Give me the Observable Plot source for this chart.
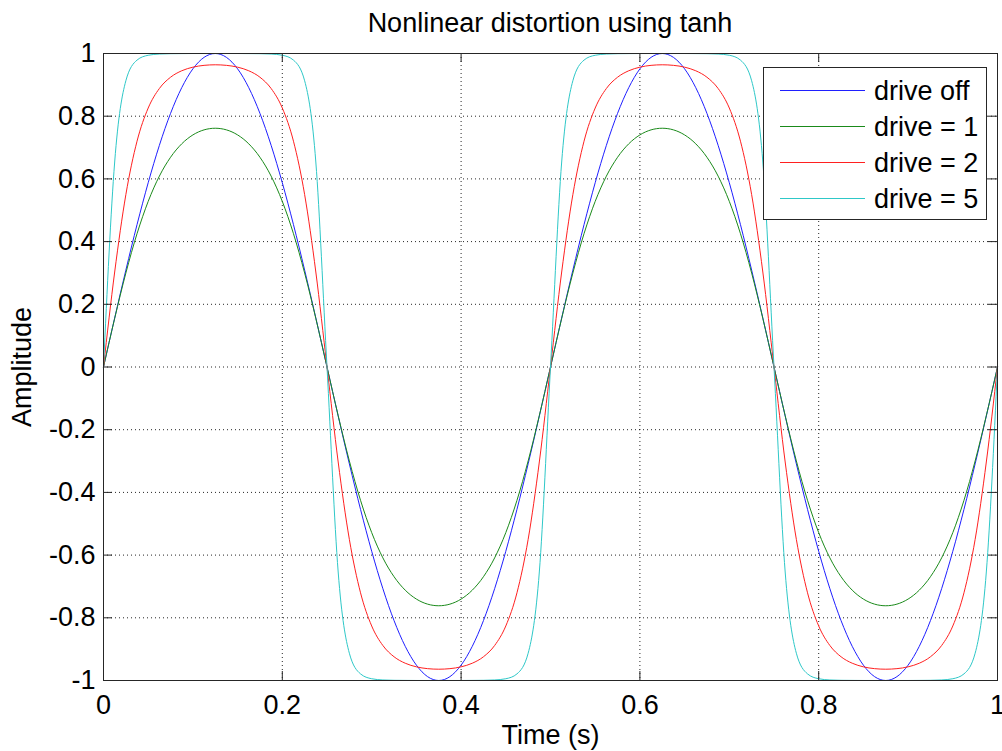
<!DOCTYPE html>
<html>
<head>
<meta charset="utf-8">
<script src="https://cdn.jsdelivr.net/npm/d3@7"></script>
<script src="https://cdn.jsdelivr.net/npm/@observablehq/plot@0.6"></script>
<style>
  html, body { margin: 0; padding: 0; background: #fff; }
  #wrap { position: relative; width: 1002px; height: 751px; font-family: "Liberation Sans", Arial, sans-serif; }
  #title { position: absolute; left: 103px; top: 10px; width: 894px; text-align: center; font-size: 27px; line-height: 27px; color: #000; }
  #legend { position: absolute; left: 763px; top: 67px; width: 224px; height: 153px; box-sizing: border-box; border: 1px solid #262626; background: #fff; }
  .lrow-line { position: absolute; left: 16px; width: 85px; height: 0; border-top: 1px solid; }
  .lrow-text { position: absolute; left: 110px; font-size: 27px; line-height: 27px; color: #000; white-space: nowrap; }
</style>
</head>
<body>
<div id="wrap">
  <div id="chart"></div>
  <div id="title">Nonlinear distortion using tanh</div>
  <div id="legend"></div>
</div>
<script>
const titleText = "Nonlinear distortion using tanh";
const xLabel = "Time (s)";
const yLabel = "Amplitude";

const seriesNames = ["drive off", "drive = 1", "drive = 2", "drive = 5"];
const seriesColors = ["#1f1fff", "#1a8a1a", "#ff2020", "#2ec8c8"];

const xTicks = [0, 0.2, 0.4, 0.6, 0.8, 1];
const xTickLabels = ["0", "0.2", "0.4", "0.6", "0.8", "1"];
const yTicks = [-1, -0.8, -0.6, -0.4, -0.2, 0, 0.2, 0.4, 0.6, 0.8, 1];
const yTickLabels = ["-1", "-0.8", "-0.6", "-0.4", "-0.2", "0", "0.2", "0.4", "0.6", "0.8", "1"];

const time = [0,0.0125,0.025,0.0375,0.05,0.0625,0.075,0.0875,0.1,0.1125,0.125,0.1375,0.15,0.1625,0.175,0.1875,0.2,0.2125,0.225,0.2375,0.25,0.2625,0.275,0.2875,0.3,0.3125,0.325,0.3375,0.35,0.3625,0.375,0.3875,0.4,0.4125,0.425,0.4375,0.45,0.4625,0.475,0.4875,0.5,
0.5125,0.525,0.5375,0.55,0.5625,0.575,0.5875,0.6,0.6125,0.625,0.6375,0.65,0.6625,0.675,0.6875,0.7,0.7125,0.725,0.7375,0.75,0.7625,0.775,0.7875,0.8,0.8125,0.825,0.8375,0.85,0.8625,0.875,0.8875,0.9,0.9125,0.925,0.9375,0.95,0.9625,0.975,0.9875,1];

const driveOff = [0,.1564,.309,.454,.5878,.7071,.809,.891,.9511,.9877,1,.9877,.9511,.891,.809,.7071,.5878,.454,.309,.1564,0,-.1564,-.309,-.454,-.5878,-.7071,-.809,-.891,-.9511,-.9877,-1,-.9877,-.9511,-.891,-.809,-.7071,-.5878,-.454,-.309,-.1564,0,
.1564,.309,.454,.5878,.7071,.809,.891,.9511,.9877,1,.9877,.9511,.891,.809,.7071,.5878,.454,.309,.1564,0,-.1564,-.309,-.454,-.5878,-.7071,-.809,-.891,-.9511,-.9877,-1,-.9877,-.9511,-.891,-.809,-.7071,-.5878,-.454,-.309,-.1564,0];

const drive1 = [0,.1551,.2996,.4252,.5283,.6089,.669,.7119,.7403,.7564,.7616,.7564,.7403,.7119,.669,.6089,.5283,.4252,.2996,.1551,0,-.1551,-.2996,-.4252,-.5283,-.6089,-.669,-.7119,-.7403,-.7564,-.7616,-.7564,-.7403,-.7119,-.669,-.6089,-.5283,-.4252,-.2996,-.1551,0,
.1551,.2996,.4252,.5283,.6089,.669,.7119,.7403,.7564,.7616,.7564,.7403,.7119,.669,.6089,.5283,.4252,.2996,.1551,0,-.1551,-.2996,-.4252,-.5283,-.6089,-.669,-.7119,-.7403,-.7564,-.7616,-.7564,-.7403,-.7119,-.669,-.6089,-.5283,-.4252,-.2996,-.1551,0];

const drive2 = [0,.303,.5497,.7202,.8261,.8884,.9243,.9449,.9564,.9622,.964,.9622,.9564,.9449,.9243,.8884,.8261,.7202,.5497,.303,0,-.303,-.5497,-.7202,-.8261,-.8884,-.9243,-.9449,-.9564,-.9622,-.964,-.9622,-.9564,-.9449,-.9243,-.8884,-.8261,-.7202,-.5497,-.303,0,
.303,.5497,.7202,.8261,.8884,.9243,.9449,.9564,.9622,.964,.9622,.9564,.9449,.9243,.8884,.8261,.7202,.5497,.303,0,-.303,-.5497,-.7202,-.8261,-.8884,-.9243,-.9449,-.9564,-.9622,-.964,-.9622,-.9564,-.9449,-.9243,-.8884,-.8261,-.7202,-.5497,-.303,0];

const drive5 = [0,.6539,.913,.9789,.9944,.9983,.9994,.9997,.9999,.9999,.9999,.9999,.9999,.9997,.9994,.9983,.9944,.9789,.913,.6539,0,-.6539,-.913,-.9789,-.9944,-.9983,-.9994,-.9997,-.9999,-.9999,-.9999,-.9999,-.9999,-.9997,-.9994,-.9983,-.9944,-.9789,-.913,-.6539,0,
.6539,.913,.9789,.9944,.9983,.9994,.9997,.9999,.9999,.9999,.9999,.9999,.9997,.9994,.9983,.9944,.9789,.913,.6539,0,-.6539,-.913,-.9789,-.9944,-.9983,-.9994,-.9997,-.9999,-.9999,-.9999,-.9999,-.9999,-.9997,-.9994,-.9983,-.9944,-.9789,-.913,-.6539,0];

const seriesValues = [driveOff, drive1, drive2, drive5];

const W = 1002, H = 751;
const mL = 103, mR = 5, mT = 53, mB = 71;
const frameW = W - mL - mR, frameH = H - mT - mB;
const tickLen = 9;
const FS = 27;

const lineMarks = seriesValues.map((vals, s) =>
  Plot.line(time.map((t, i) => ({t, v: vals[i]})), {
    x: "t", y: "v", stroke: seriesColors[s], strokeWidth: 1, curve: "monotone-x"
  })
);

const fmtX = d => xTickLabels[xTicks.findIndex(v => Math.abs(v - d) < 1e-9)];
const fmtY = d => yTickLabels[yTicks.findIndex(v => Math.abs(v - d) < 1e-9)];

const chart = Plot.plot({
  width: W, height: H,
  marginLeft: mL, marginRight: mR, marginTop: mT, marginBottom: mB,
  style: { fontFamily: '"Liberation Sans", Arial, sans-serif', background: "#fff", color: "#000", overflow: "visible" },
  x: { domain: [0, 1] },
  y: { domain: [-1, 1] },
  marks: [
    Plot.gridX(xTicks, { stroke: "#000", strokeOpacity: 0.85, strokeDasharray: "1,3" }),
    Plot.gridY(yTicks, { stroke: "#000", strokeOpacity: 0.85, strokeDasharray: "1,3" }),
    ...lineMarks,
    // inward ticks on all four sides
    Plot.ruleX(xTicks, { x: d => d, insetTop: frameH - tickLen, stroke: "#262626" }),
    Plot.ruleX(xTicks, { x: d => d, insetBottom: frameH - tickLen, stroke: "#262626" }),
    Plot.ruleY(yTicks, { y: d => d, insetRight: frameW - tickLen, stroke: "#262626" }),
    Plot.ruleY(yTicks, { y: d => d, insetLeft: frameW - tickLen, stroke: "#262626" }),
    Plot.frame({ stroke: "#262626" }),
    Plot.axisX(xTicks, { tickSize: 0, tickPadding: 14, tickFormat: fmtX, fontSize: FS, label: null }),
    Plot.axisY(yTicks, { tickSize: 0, tickPadding: 8, tickFormat: fmtY, fontSize: FS, label: null }),
    Plot.text([xLabel], { text: d => d, frameAnchor: "bottom", lineAnchor: "middle", textAnchor: "middle", dy: 55, fontSize: FS, fill: "#000" }),
    Plot.text([yLabel], { text: d => d, frameAnchor: "left", lineAnchor: "middle", textAnchor: "middle", dx: -81, rotate: -90, fontSize: FS, fill: "#000" })
  ]
});
document.getElementById("chart").appendChild(chart);
document.getElementById("title").textContent = titleText;

const legend = document.getElementById("legend");
const rowLineY = [22, 58, 94, 130];
seriesNames.forEach((name, i) => {
  const ln = document.createElement("div");
  ln.className = "lrow-line";
  ln.style.top = rowLineY[i] + "px";
  ln.style.borderTopColor = seriesColors[i];
  legend.appendChild(ln);
  const tx = document.createElement("div");
  tx.className = "lrow-text";
  tx.style.top = (rowLineY[i] - 12) + "px";
  tx.textContent = name;
  legend.appendChild(tx);
});
</script>
</body>
</html>
